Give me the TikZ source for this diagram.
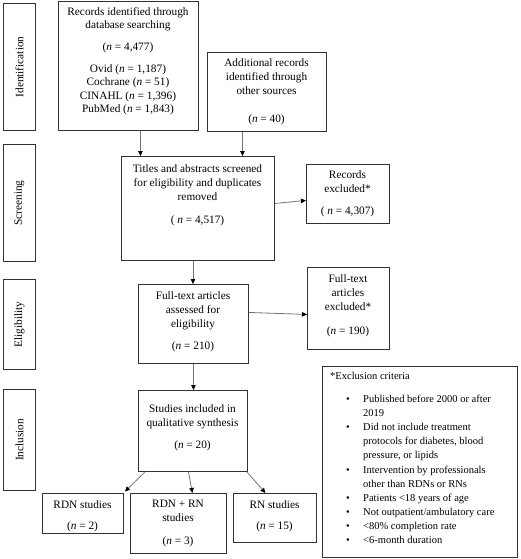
\documentclass[tikz,border=0pt]{standalone}
\usepackage{fontspec}
\setmainfont{Liberation Serif}
\usetikzlibrary{arrows.meta}
\newcommand\exbul{\hspace*{16pt}\makebox[17pt][l]{\textbullet}}
\newcommand\excont{\hspace*{33pt}}
\newcommand\nn{\textit{n}}
\begin{document}
\begin{tikzpicture}[x=1pt,y=-1pt,
  box/.style={draw=black!80,line width=0.9pt,rectangle,inner sep=0,anchor=north west},
  txt/.style={inner sep=0,align=center,anchor=north,font=\fontsize{11.3}{13.5}\selectfont},
  side/.style={inner sep=0,rotate=90,font=\fontsize{11.3}{13.5}\selectfont},
  arr/.style={draw=black!55,line width=0.8pt,-{Triangle[length=5pt,width=4.5pt,black]}}]
\useasboundingbox (0,0) rectangle (520,559);
% side labels
\node[box,minimum width=32pt,minimum height=127pt] (idb) at (3,3) {};
\node[side] (idt) at (idb.center) {Identification};
\node[box,minimum width=32pt,minimum height=117pt] (scb) at (3,144) {};
\node[side] (sct) at (scb.center) {Screening};
\node[box,minimum width=32pt,minimum height=90pt] (elb) at (3,279) {};
\node[side] (elt) at (elb.center) {Eligibility};
\node[box,minimum width=32pt,minimum height=101pt] (inb) at (3,389) {};
\node[side] (int) at (inb.center) {Inclusion};
% boxes
\node[box,minimum width=140pt,minimum height=129pt] (rec) at (58,1) {};
\node[txt] (rect) at (128,7) {Records identified through\\database searching\\[8.5pt]
  (\nn{} = 4,477)\\[8pt]Ovid (\nn{} = 1,187)\\Cochrane (\nn{} = 51)\\CINAHL (\nn{} = 1,396)\\PubMed (\nn{} = 1,843)};
\node[box,minimum width=119pt,minimum height=79pt] (add) at (207,52) {};
\node[txt] (addt) at (266.5,58) {Additional records\\[0.5pt]identified through\\[0.5pt]other sources\\[15pt](\nn{} = 40)};
\node[box,minimum width=153pt,minimum height=104pt] (tit) at (121,156) {};
\node[txt] (titt) at (197.5,164) {Titles and abstracts screened\\[0.5pt]for eligibility and duplicates\\[0.5pt]removed\\[9.5pt]( \nn{} = 4,517)};
\node[box,minimum width=83pt,minimum height=59pt] (rex) at (306,164) {};
\node[txt] (rext) at (347.5,170) {Records\\[0.5pt]excluded*\\[8.5pt]( \nn{} = 4,307)};
\node[box,minimum width=110pt,minimum height=79pt] (fta) at (138,284) {};
\node[txt] (ftat) at (193,291) {Full-text articles\\[0.5pt]assessed for\\[0.5pt]eligibility\\[8.5pt](\nn{} = 210)};
\node[box,minimum width=82pt,minimum height=82pt] (ftx) at (307,267) {};
\node[txt] (ftxt) at (348,274) {Full-text\\[0.5pt]articles\\[0.5pt]excluded*\\[10.5pt](\nn{} = 190)};
\node[box,minimum width=109pt,minimum height=81pt] (stu) at (138,390) {};
\node[txt] (stut) at (192.5,404) {Studies included in\\[0.5pt]qualitative synthesis\\[8.5pt](\nn{} = 20)};
\node[box,minimum width=81pt,minimum height=40pt] (rdn) at (42,493) {};
\node[txt] (rdnt) at (82.5,500) {RDN studies\\[7.5pt](\nn{} = 2)};
\node[box,minimum width=96pt,minimum height=60pt] (rdr) at (130,493) {};
\node[txt] (rdrt) at (178,500) {RDN + RN\\studies\\[9.5pt](\nn{} = 3)};
\node[box,minimum width=83pt,minimum height=49pt] (rns) at (233,493) {};
\node[txt] (rnst) at (274.5,500) {RN studies\\[7.5pt](\nn{} = 15)};
\node[box,minimum width=195pt,minimum height=191pt] (exc) at (322,366) {};
\node[inner sep=0,anchor=north west,align=left,font=\fontsize{10.5}{14.1}\selectfont] (exct) at (330,372)
 {*Exclusion criteria\\[9pt]
  \exbul Published before 2000 or after\\
  \excont 2019\\
  \exbul Did not include treatment\\
  \excont protocols for diabetes, blood\\
  \excont pressure, or lipids\\
  \exbul Intervention by professionals\\
  \excont other than RDNs or RNs\\
  \exbul Patients <18 years of age\\
  \exbul Not outpatient/ambulatory care\\
  \exbul <80\% completion rate\\
  \exbul <6-month duration};
% arrows
\draw[arr] ([xshift=12pt]rec.south) -- ([xshift=12pt]rec.south |- tit.north);
\draw[arr] ([xshift=-24.5pt]add.south) -- ([xshift=-24.5pt]add.south |- tit.north);
\draw[arr] ([yshift=5pt]tit.east) -- ([yshift=-6.5pt]rex.west);
\draw[arr] ([xshift=-5pt]tit.south) -- ([xshift=-5pt]tit.south |- fta.north);
\draw[arr] ([yshift=11.5pt]fta.east) -- ([yshift=-6pt]ftx.west);
\draw[arr] (fta.south) -- (fta.south |- stu.north);
\draw[arr] ([xshift=7pt]stu.south west) -- ([xshift=1pt,yshift=1.5pt]rdn.north east);
\draw[arr] ([xshift=-4.5pt]stu.south) -- ([xshift=14pt]rdr.north);
\draw[arr] ([xshift=-1pt]stu.south east) -- ([xshift=-9.5pt]rns.north);
\end{tikzpicture}
\end{document}
